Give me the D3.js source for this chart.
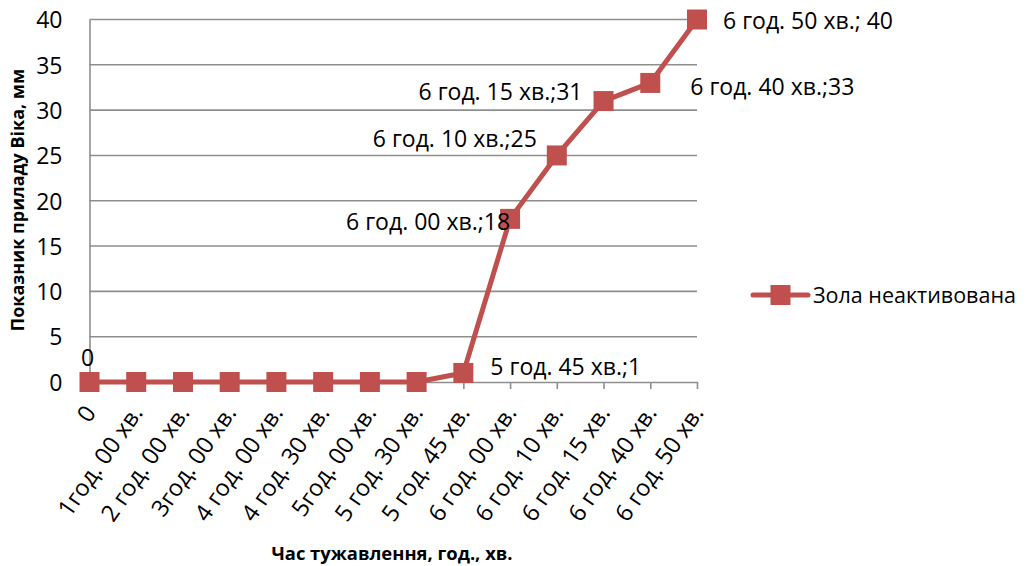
<!DOCTYPE html>
<html>
<head>
<meta charset="utf-8">
<script src="https://cdn.jsdelivr.net/npm/d3@7"></script>
<style>
  html, body { margin: 0; padding: 0; background: #fff; }
  svg { display: block; font-family: "Open Sans", "Noto Sans", sans-serif; }
</style>
</head>
<body>
<svg id="chart" width="1029" height="566"></svg>
<script>
// Time of setting (categories) and Vicat needle readings
const categories = [
  "0", "1год. 00 хв.", "2 год. 00 хв.", "3год. 00 хв.", "4 год. 00 хв.",
  "4 год. 30 хв.", "5год. 00 хв.", "5 год. 30 хв.", "5 год. 45 хв.",
  "6 год. 00 хв.", "6 год. 10 хв.", "6 год. 15 хв.", "6 год. 40 хв.", "6 год. 50 хв."
];
const values = [0, 0, 0, 0, 0, 0, 0, 0, 1, 18, 25, 31, 33, 40];
const yTicks = [0, 5, 10, 15, 20, 25, 30, 35, 40];
const seriesName = "Зола неактивована";
const xTitle = "Час тужавлення, год., хв.";
const yTitle = "Показник приладу Віка, мм";

// Which points carry a data label, and how each label is placed
const labelSpecs = [
  { i: 0,  withCat: false, sep: "",   anchor: "middle", dx: -2,  dy: -16 },
  { i: 8,  withCat: true,  sep: ";",  anchor: "start",  dx: 27,  dy: 2 },
  { i: 9,  withCat: true,  sep: ";",  anchor: "end",    dx: 0,   dy: 11 },
  { i: 10, withCat: true,  sep: ";",  anchor: "end",    dx: -20, dy: -8 },
  { i: 11, withCat: true,  sep: ";",  anchor: "end",    dx: -21, dy: -1 },
  { i: 12, withCat: true,  sep: ";",  anchor: "start",  dx: 40,  dy: 12 },
  { i: 13, withCat: true,  sep: "; ", anchor: "start",  dx: 26,  dy: 9 }
];

const red = "#C0504D";
const grid = "#8e8e8e";
const svg = d3.select("#chart");

const left = 89.5, right = 697;
const x = d3.scalePoint().domain(categories).range([left, right]);
const y = d3.scaleLinear().domain([0, 40]).range([382, 19.5]);

// Horizontal gridlines
svg.append("g").selectAll("line")
  .data(yTicks.filter(d => d > 0))
  .join("line")
  .attr("x1", left).attr("x2", right)
  .attr("y1", d => y(d)).attr("y2", d => y(d))
  .attr("stroke", grid).attr("stroke-width", 1.6);

// Value axis
const yAxis = svg.append("g")
  .attr("transform", `translate(${left},0)`)
  .call(d3.axisLeft(y).tickValues(yTicks).tickSize(0).tickPadding(27));
yAxis.select(".domain").attr("stroke", grid).attr("stroke-width", 1.6);
yAxis.selectAll("text")
  .attr("font-family", "'Open Sans', sans-serif")
  .attr("font-size", 23).attr("fill", "#000")
  .attr("dy", "0.36em");

// Category axis
const xAxis = svg.append("g")
  .attr("transform", `translate(0,${y(0)})`)
  .call(d3.axisBottom(x).tickSize(7).tickSizeOuter(0));
xAxis.select(".domain").attr("stroke", grid).attr("stroke-width", 1.6);
xAxis.selectAll(".tick line").attr("stroke", grid).attr("stroke-width", 1.6);
xAxis.selectAll("text")
  .attr("font-family", "'Open Sans', sans-serif")
  .attr("font-size", 23.5).attr("fill", "#000")
  .attr("text-anchor", "end")
  .attr("y", 0).attr("dy", 0)
  .attr("transform", "translate(7,31) rotate(-55)");

// Series line and markers
const line = d3.line().x((d, i) => x(categories[i])).y(d => y(d));
svg.append("path")
  .datum(values)
  .attr("d", line)
  .attr("fill", "none")
  .attr("stroke", red)
  .attr("stroke-width", 5)
  .attr("stroke-linejoin", "round");

const ms = 20;
svg.append("g").selectAll("rect")
  .data(values)
  .join("rect")
  .attr("x", (d, i) => x(categories[i]) - ms / 2)
  .attr("y", d => y(d) - ms / 2)
  .attr("width", ms).attr("height", ms)
  .attr("fill", red);

// Data labels
svg.append("g").selectAll("text")
  .data(labelSpecs)
  .join("text")
  .attr("x", s => x(categories[s.i]) + s.dx)
  .attr("y", s => y(values[s.i]) + s.dy)
  .attr("text-anchor", s => s.anchor)
  .attr("font-size", 23).attr("fill", "#000")
  .text(s => (s.withCat ? categories[s.i] + s.sep : "") + values[s.i]);

// Axis titles
svg.append("text")
  .attr("x", 392).attr("y", 560)
  .attr("text-anchor", "middle")
  .attr("font-size", 18.4).attr("font-weight", "bold").attr("fill", "#000")
  .text(xTitle);

svg.append("text")
  .attr("transform", "translate(24,200) rotate(-90)")
  .attr("text-anchor", "middle")
  .attr("font-size", 18).attr("font-weight", "bold").attr("fill", "#000")
  .text(yTitle);

// Legend
const lg = svg.append("g").attr("transform", "translate(753,295)");
lg.append("line").attr("x1", 0).attr("x2", 55).attr("y1", 0).attr("y2", 0)
  .attr("stroke", red).attr("stroke-width", 5).attr("stroke-linecap", "round");
lg.append("rect").attr("x", 27.5 - ms / 2).attr("y", -ms / 2)
  .attr("width", ms).attr("height", ms).attr("fill", red);
lg.append("text").attr("x", 60).attr("y", 8)
  .attr("font-size", 21.5).attr("fill", "#000")
  .text(seriesName);
</script>
</body>
</html>
